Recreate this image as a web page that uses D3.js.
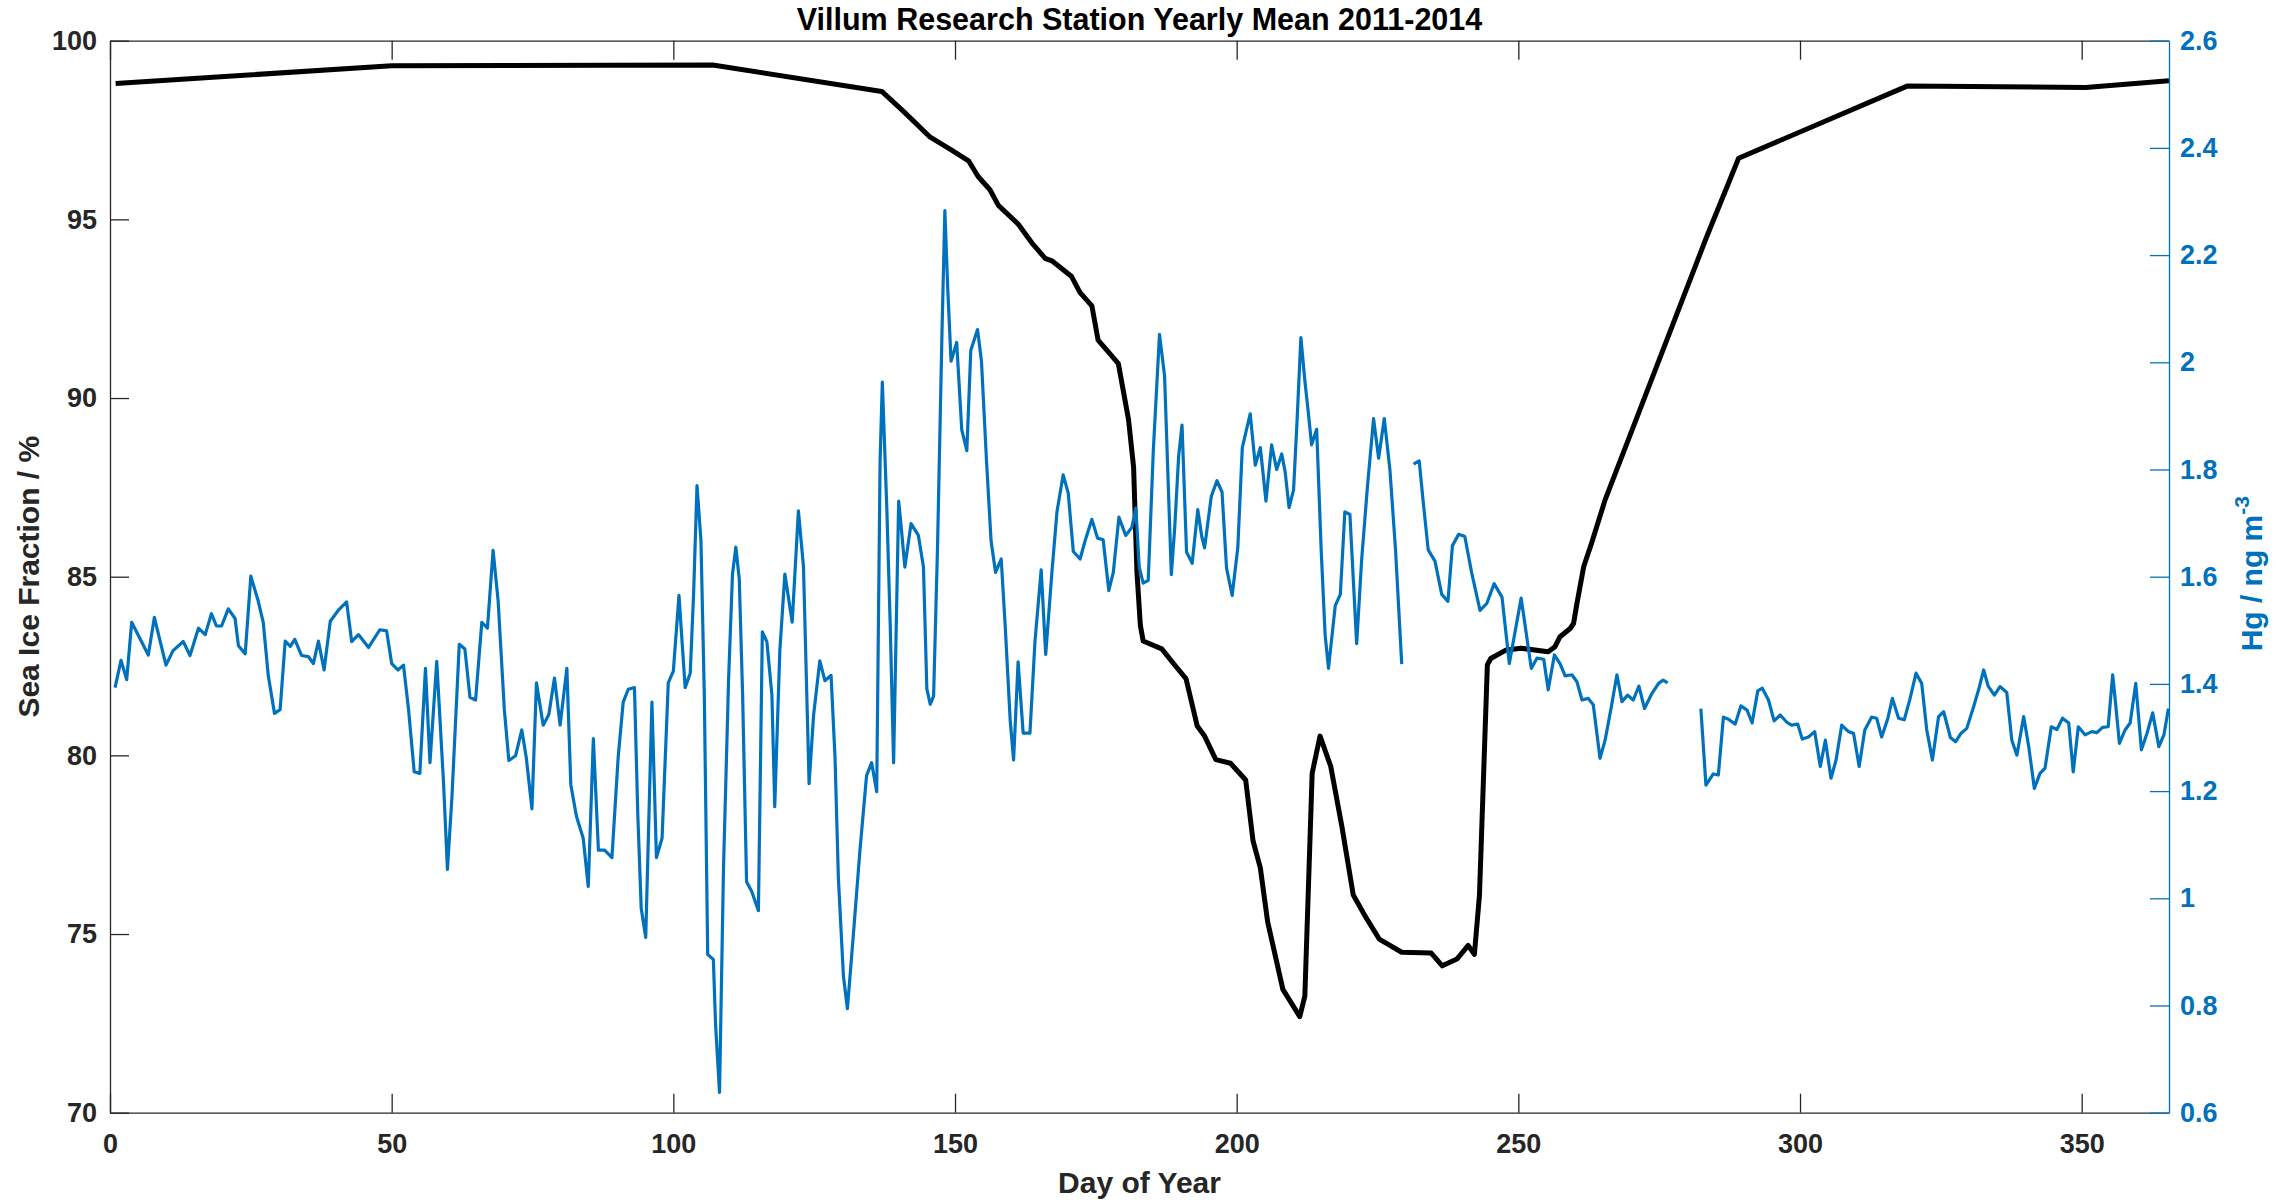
<!DOCTYPE html>
<html><head><meta charset="utf-8">
<script src="https://cdn.jsdelivr.net/npm/d3@7"></script>
<style>body{margin:0;background:#fff}svg{display:block}</style>
</head><body>
<svg id="c" width="2279" height="1203"></svg>
<script>
// ---------- data ----------
const xTicks = [0, 50, 100, 150, 200, 250, 300, 350];
const iceTicks = [70, 75, 80, 85, 90, 95, 100];
const hgTicks = [0.6, 0.8, 1, 1.2, 1.4, 1.6, 1.8, 2, 2.2, 2.4, 2.6];

const iceDay = [1, 50, 107, 137, 141, 145.6, 149.4, 152.4, 154.1, 156.2, 157.7, 161.2, 163.6, 166.0, 167.2, 170.7, 172.2, 174.3, 175.4, 177.1, 179.0, 180.8, 181.7, 182.3, 182.9, 183.4, 186.7, 189.0, 191.0, 193.0, 194.3, 196.3, 198.9, 201.6, 202.9, 204.2, 205.5, 208.2, 210.1, 211.2, 212.1, 213.4, 214.8, 216.7, 218.7, 220.7, 222.7, 225.3, 229.3, 234.5, 236.5, 239.1, 241.1, 242.2, 243.1, 244.5, 245.1, 247.7, 250.4, 255.3, 256.5, 257.4, 259.2, 259.8, 260.4, 261.6, 263.0, 265.4, 283.4, 289.1, 319.0, 350.7, 365.5];
const iceVal = [98.8, 99.3, 99.32, 98.58, 98.0, 97.3, 96.94, 96.64, 96.2, 95.83, 95.39, 94.87, 94.35, 93.91, 93.84, 93.4, 92.95, 92.58, 91.62, 91.31, 90.96, 89.4, 88.07, 85.12, 83.64, 83.2, 82.98, 82.53, 82.15, 80.82, 80.54, 79.88, 79.78, 79.31, 77.61, 76.85, 75.34, 73.45, 72.97, 72.69, 73.26, 79.5, 80.54, 79.69, 77.99, 76.09, 75.53, 74.86, 74.49, 74.47, 74.11, 74.3, 74.68, 74.43, 76.09, 82.53, 82.71, 82.94, 83.0, 82.9, 83.04, 83.32, 83.55, 83.69, 84.25, 85.28, 85.94, 87.15, 94.5, 96.71, 98.73, 98.69, 98.88];

const hgDay = [0.9,1.95,2.96,3.85,6.8,7.87,9.94,11.2,13.0,14.2,15.7,16.9,18.0,18.9,19.8,21.0,22.2,22.8,24.0,25.0,26.3,27.2,28.1,29.2,30.2,31.1,32.0,32.8,34.0,35.2,36.1,37.0,38.0,39.1,40.5,42.0,42.9,44.1,45.9,47.9,49.1,50.0,51.1,52.1,53.0,54.0,55.0,56.0,56.8,58.0,59.2,59.9,60.7,62.0,63.0,63.9,64.9,66.0,67.0,68.0,68.9,70.0,70.8,72.0,73.1,73.9,74.9,75.7,76.9,77.9,78.9,79.9,81.1,81.8,82.8,84.0,84.9,85.8,86.7,87.8,89.1,90.2,91.1,92.0,93.1,93.7,94.3,95.1,96.2,97.0,98.0,99.1,100.0,101.0,102.1,103.0,103.6,104.2,104.9,105.5,106.1,107.1,107.5,108.2,108.9,109.8,110.5,111.1,111.7,112.3,113.0,113.9,115.1,115.8,116.6,117.5,118.0,118.9,119.8,121.1,122.2,123.1,124.1,124.9,126.0,126.9,128.0,128.7,129.3,130.2,130.9,132.0,133.1,134.3,135.2,136.1,136.7,137.1,137.9,138.5,139.1,140.0,140.5,141.1,142.2,143.5,144.4,145.0,145.6,146.2,146.9,147.7,148.2,148.7,149.3,150.3,151.2,152.1,152.8,154.0,154.7,155.6,156.4,157.2,158.2,158.9,159.8,160.4,161.2,162.1,163.3,164.2,165.3,166.1,167.2,168.1,169.2,170.1,171.0,172.2,173.1,174.3,175.3,176.3,177.3,178.1,179.1,180.3,181.4,182.1,182.7,183.4,184.3,185.2,186.3,187.2,187.9,188.4,189.0,189.7,190.3,191.1,192.1,193.1,193.8,194.3,195.5,196.5,197.4,198.2,199.2,200.2,201.0,202.4,203.3,204.2,205.2,206.2,207.1,208.0,208.6,209.3,210.1,210.7,211.4,212.1,212.7,213.3,214.2,215.0,215.7,216.3,217.5,218.4,219.2,220.1,221.3,222.2,223.2,224.3,225.2,226.2,227.2,228.2,229.3,null,231.4,232.4,233.1,234.0,235.2,236.4,237.5,238.3,239.4,240.5,241.7,243.2,244.4,245.7,247.1,248.4,250.5,252.3,253.3,254.5,255.3,256.4,257.4,258.3,259.5,260.4,261.3,262.4,263.3,264.5,265.4,266.5,267.5,268.4,269.4,270.4,271.4,272.4,273.7,274.9,275.7,276.5,null,282.4,283.3,284.6,285.5,286.4,287.3,288.5,289.5,290.6,291.5,292.5,293.3,294.4,295.4,296.5,297.7,298.5,299.6,300.4,301.5,302.6,303.6,304.5,305.5,306.4,307.4,308.6,309.5,310.5,311.5,312.7,313.6,314.5,315.6,316.4,317.5,318.5,319.5,320.6,321.6,322.5,323.5,324.6,325.5,326.7,327.6,328.6,329.6,330.8,331.7,332.6,333.4,334.5,335.5,336.7,337.6,338.5,339.7,340.6,341.6,342.6,343.5,344.6,345.6,346.6,347.7,348.5,349.4,350.6,351.8,352.7,353.7,354.7,355.5,355.9,356.7,357.7,358.6,359.6,360.6,361.6,362.6,363.7,364.6,365.4];
const hgVal = [1.393,1.444,1.408,1.515,1.454,1.524,1.435,1.462,1.479,1.453,1.504,1.492,1.531,1.508,1.508,1.540,1.522,1.471,1.456,1.601,1.555,1.515,1.415,1.345,1.352,1.480,1.470,1.483,1.453,1.451,1.438,1.480,1.426,1.517,1.537,1.553,1.479,1.492,1.468,1.501,1.499,1.438,1.426,1.435,1.352,1.236,1.233,1.429,1.253,1.442,1.217,1.054,1.189,1.474,1.465,1.375,1.370,1.515,1.504,1.649,1.555,1.352,1.257,1.266,1.314,1.262,1.167,1.402,1.323,1.343,1.411,1.323,1.429,1.212,1.153,1.112,1.022,1.298,1.090,1.090,1.076,1.262,1.366,1.390,1.393,1.153,0.981,0.927,1.366,1.076,1.112,1.402,1.424,1.565,1.393,1.420,1.569,1.770,1.668,1.379,0.895,0.886,0.764,0.638,1.054,1.406,1.605,1.655,1.596,1.379,1.031,1.013,0.977,1.497,1.479,1.379,1.171,1.461,1.605,1.515,1.723,1.619,1.214,1.342,1.443,1.406,1.416,1.263,1.037,0.854,0.794,0.938,1.086,1.229,1.253,1.199,1.815,1.963,1.726,1.510,1.253,1.741,1.687,1.618,1.699,1.677,1.618,1.391,1.362,1.377,1.657,2.061,2.283,2.140,2.002,2.037,1.874,1.835,2.022,2.061,2.002,1.815,1.667,1.608,1.633,1.510,1.332,1.258,1.441,1.308,1.308,1.480,1.613,1.455,1.608,1.721,1.790,1.756,1.647,1.633,1.667,1.707,1.672,1.669,1.574,1.608,1.711,1.677,1.692,1.728,1.618,1.588,1.593,1.835,2.052,1.975,1.758,1.604,1.691,1.825,1.883,1.646,1.625,1.725,1.675,1.654,1.750,1.779,1.758,1.616,1.565,1.654,1.841,1.904,1.808,1.841,1.741,1.846,1.800,1.829,1.796,1.729,1.762,1.887,2.046,1.966,1.908,1.846,1.875,1.650,1.492,1.429,1.546,1.567,1.721,1.716,1.475,1.634,1.766,1.895,1.821,1.895,1.800,1.650,1.437,null,1.810,1.816,1.741,1.650,1.629,1.567,1.554,1.658,1.679,1.675,1.608,1.537,1.550,1.587,1.562,1.438,1.560,1.429,1.448,1.446,1.389,1.454,1.438,1.415,1.417,1.404,1.370,1.373,1.361,1.261,1.295,1.357,1.417,1.367,1.379,1.370,1.396,1.354,1.382,1.401,1.407,1.402,null,1.354,1.211,1.232,1.230,1.338,1.334,1.325,1.359,1.351,1.327,1.387,1.392,1.370,1.331,1.342,1.328,1.323,1.325,1.297,1.301,1.311,1.246,1.295,1.224,1.258,1.323,1.311,1.308,1.246,1.314,1.338,1.336,1.301,1.336,1.373,1.336,1.333,1.371,1.420,1.401,1.314,1.258,1.339,1.348,1.300,1.292,1.308,1.317,1.357,1.389,1.426,1.396,1.379,1.395,1.384,1.295,1.267,1.339,1.283,1.205,1.233,1.243,1.320,1.315,1.336,1.327,1.236,1.320,1.305,1.311,1.309,1.319,1.320,1.417,1.376,1.289,1.314,1.327,1.401,1.277,1.308,1.346,1.283,1.305,1.354];

// ---------- layout ----------
const W = 2279, H = 1203;
const L = 110, R = 2169, T = 40.7, B = 1112.7;
const FONT = "'Liberation Sans', Arial, Helvetica, sans-serif";
const AXC = "#262626", BLUE = "#0072BD";

const svg = d3.select("#c");
const x = d3.scaleLinear().domain([0, 365.5]).range([L, R]);
const yL = d3.scaleLinear().domain([70, 100]).range([B, T]);
const yR = d3.scaleLinear().domain([0.6, 2.6]).range([B, T]);

svg.append("defs").append("clipPath").attr("id", "clip")
  .append("rect").attr("x", L).attr("y", T).attr("width", R - L).attr("height", B - T);

function styleAxis(g, color, size) {
  g.selectAll("path.domain").attr("stroke", color).attr("stroke-width", 1.3);
  g.selectAll(".tick line").attr("stroke", color).attr("stroke-width", 1.3);
  g.selectAll(".tick text").attr("fill", color).attr("font-family", FONT)
    .attr("font-weight", "bold").attr("font-size", size);
}

const fmt = d => String(+d.toFixed(1));

// bottom axis
const gx = svg.append("g").attr("transform", `translate(0,${B})`)
  .call(d3.axisBottom(x).tickValues(xTicks).tickSizeInner(-19).tickSizeOuter(0).tickPadding(21).tickFormat(fmt));
styleAxis(gx, AXC, 27);
// top axis
const gxt = svg.append("g").attr("transform", `translate(0,${T})`)
  .call(d3.axisTop(x).tickValues(xTicks).tickSizeInner(-19).tickSizeOuter(0).tickFormat(""));
styleAxis(gxt, AXC, 27);
// left axis
const gl = svg.append("g").attr("transform", `translate(${L},0)`)
  .call(d3.axisLeft(yL).tickValues(iceTicks).tickSizeInner(-19).tickSizeOuter(0).tickPadding(13).tickFormat(fmt));
styleAxis(gl, AXC, 27);

// lines
const iceData = iceDay.map((d, i) => [d, iceVal[i]]);
const hgData = hgDay.map((d, i) => [d, hgVal[i]]);

svg.append("path").datum(iceData)
  .attr("clip-path", "url(#clip)")
  .attr("fill", "none").attr("stroke", "#000").attr("stroke-width", 5)
  .attr("stroke-linejoin", "round")
  .attr("d", d3.line().x(d => x(d[0])).y(d => yL(d[1])));

svg.append("path").datum(hgData)
  .attr("clip-path", "url(#clip)")
  .attr("fill", "none").attr("stroke", BLUE).attr("stroke-width", 3.2)
  .attr("stroke-linejoin", "round")
  .attr("d", d3.line().defined(d => d[0] != null && d[1] != null).x(d => x(d[0])).y(d => yR(d[1])));

// right axis
const gr = svg.append("g").attr("transform", `translate(${R},0)`)
  .call(d3.axisRight(yR).tickValues(hgTicks).tickSizeInner(-19).tickSizeOuter(0).tickPadding(11).tickFormat(fmt));
styleAxis(gr, BLUE, 27);

// title & labels
svg.append("text").attr("x", (L + R) / 2).attr("y", 30).attr("text-anchor", "middle")
  .attr("font-family", FONT).attr("font-weight", "bold").attr("font-size", 30.5).attr("fill", "#000")
  .text("Villum Research Station Yearly Mean 2011-2014");

svg.append("text").attr("x", (L + R) / 2).attr("y", 1193).attr("text-anchor", "middle")
  .attr("font-family", FONT).attr("font-weight", "bold").attr("font-size", 30).attr("fill", AXC)
  .text("Day of Year");

svg.append("text").attr("transform", `translate(38.5,${(T + B) / 2}) rotate(-90)`).attr("text-anchor", "middle")
  .attr("font-family", FONT).attr("font-weight", "bold").attr("font-size", 30).attr("fill", AXC)
  .text("Sea Ice Fraction / %");

const rl = svg.append("text").attr("transform", `translate(2262,${(T + B) / 2 - 3}) rotate(-90)`).attr("text-anchor", "middle")
  .attr("font-family", FONT).attr("font-weight", "bold").attr("font-size", 30).attr("fill", BLUE);
rl.append("tspan").text("Hg / ng m");
rl.append("tspan").attr("dy", -13).attr("font-size", 21).text("-3");
</script>
</body></html>
